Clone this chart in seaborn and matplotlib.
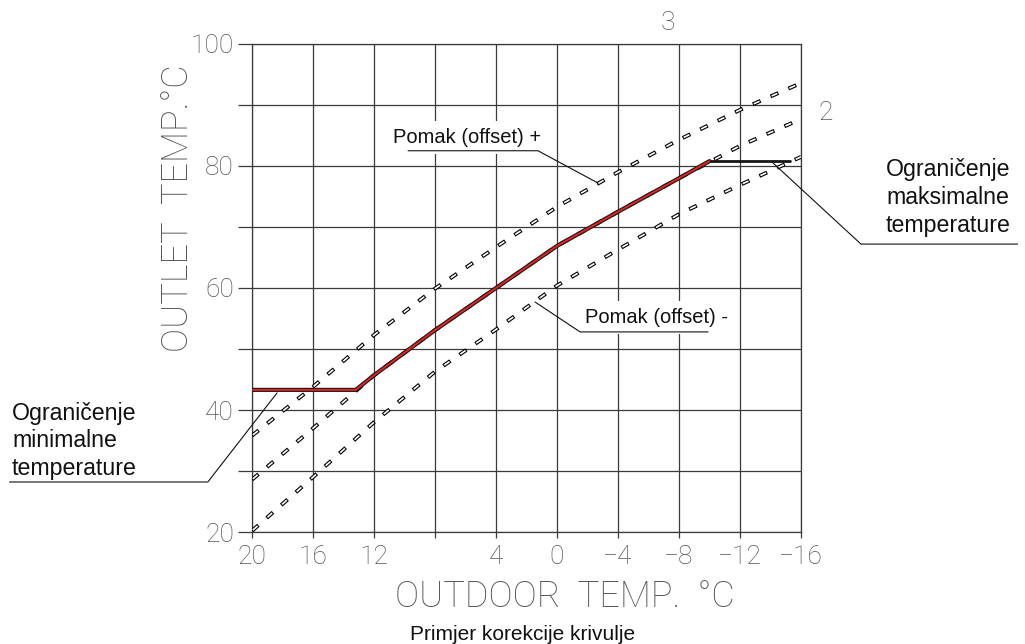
import matplotlib
matplotlib.use('Agg')
import matplotlib.pyplot as plt
import seaborn as sns

# outdoor temperature grid (x axis runs from warm to cold)
outdoor = [20, 16, 12, 8, 4, 0, -4, -8, -12, -16]
x_tick_labels = ['20', '16', '12', '', '4', '0', '−4', '−8', '−12', '−16']
outlet_ticks = [20, 30, 40, 50, 60, 70, 80, 90, 100]
y_tick_labels = ['20', '', '40', '', '60', '', '80', '', '100']

# heating curves (outlet temp in C)
curve_plus = [35.8, 43.8, 52.3, 59.9, 66.7, 73.3, 79.0, 84.3, 89.2, 93.6]   # curve 3, offset +
curve_base = [28.6, 37.0, 45.7, 53.1, 60.0, 66.9, 72.5, 78.0, 83.3, 87.7]   # curve 2
curve_minus = [20.2, 29.0, 38.0, 46.3, 53.2, 60.4, 66.3, 72.1, 76.9, 81.5]  # offset -

# limits of the corrected curve
min_limit = 43.3
max_limit = 80.8
min_reached_at = 13.2
max_reached_at = -10.0
max_line_end = -15.3

sns.set_theme(style='white')
plt.rcParams['font.family'] = ['Roboto', 'DejaVu Sans']
plt.rcParams['lines.scale_dashes'] = False

GRID = '#3a3a3a'
TXT = '#555555'
LBL = ['Liberation Sans', 'DejaVu Sans']

fig = plt.figure(figsize=(10.25, 6.44), dpi=100)
ax = fig.add_axes([0.2459, 0.1739, 0.5356, 0.7578])


def cad_dashed(values):
    # outlined dashes, like the CAD export
    sns.lineplot(x=outdoor, y=values, ax=ax, sort=False, color='black',
                 linewidth=2.8, linestyle=(0, (6.1, 7.9)), zorder=4)
    sns.lineplot(x=outdoor, y=values, ax=ax, sort=False, color='white',
                 linewidth=1.2, linestyle=(13.25, (4.6, 9.4)), zorder=5)


cad_dashed(curve_plus)
cad_dashed(curve_base)
cad_dashed(curve_minus)

# corrected curve: base curve clipped to min / max limit
red_x = [outdoor[0], min_reached_at]
red_y = [min_limit, min_limit]
for xv, yv in zip(outdoor, curve_base):
    if max_reached_at < xv < min_reached_at:
        red_x.append(xv)
        red_y.append(yv)
red_x.append(max_reached_at)
red_y.append(max_limit)

sns.lineplot(x=red_x, y=red_y, ax=ax, sort=False, color='#1a1a1a', linewidth=3.0, zorder=6)
sns.lineplot(x=red_x, y=red_y, ax=ax, sort=False, color='#e32222', linewidth=1.4, zorder=7)
sns.lineplot(x=[max_reached_at, max_line_end], y=[max_limit, max_limit], ax=ax,
             sort=False, color='#151515', linewidth=2.0, zorder=6)

ax.set_xlim(20, -16)
ax.set_ylim(20, 100)
ax.set_xticks(outdoor)
ax.set_xticklabels(x_tick_labels)
ax.set_yticks(outlet_ticks)
ax.set_yticklabels(y_tick_labels)
ax.set_xlabel('')
ax.set_ylabel('')
ax.grid(True, color=GRID, linewidth=0.9)
ax.set_axisbelow(True)
for sp in ax.spines.values():
    sp.set_color(GRID)
    sp.set_linewidth(0.9)
ax.tick_params(axis='x', bottom=True, length=4.5, width=0.9, color=GRID, pad=5,
               labelsize=19, labelcolor=TXT)
ax.tick_params(axis='y', left=True, length=10, width=0.9, color=GRID, pad=3,
               labelsize=19, labelcolor=TXT)
for lbl in ax.get_xticklabels() + ax.get_yticklabels():
    lbl.set_fontweight('light')

# curve numbers
ax.text(-7.3, 103.4, '3', ha='center', va='center', fontsize=19, color=TXT,
        fontweight='light', clip_on=False)
ax.text(-17.6, 88.7, '2', ha='center', va='center', fontsize=19, color=TXT,
        fontweight='light', clip_on=False)

# axis titles
fig.text(0.551, 0.0575, 'OUTDOOR  TEMP.  °C', ha='center', va='baseline',
         fontsize=26, color=TXT, fontweight='light')
fig.text(0.1737, 0.677, 'OUTLET  TEMP.°C', ha='center', va='center', rotation=90,
         fontsize=26, color=TXT, fontweight='light')
fig.text(0.5098, 0.0062, 'Primjer korekcije krivulje', ha='center', va='baseline',
         fontsize=15, color='#111111', family=LBL)

# callouts
box = dict(fc='white', ec='none', pad=5)
ax.text(10.75, 83.8, 'Pomak (offset) +', ha='left', va='baseline', fontsize=14.5,
        color='#111111', family=LBL, bbox=box, zorder=3)
ax.plot([9.77, 1.25, -2.69], [82.5, 82.5, 77.2], color='#111111', lw=0.8, zorder=8)

ax.text(-1.84, 54.3, 'Pomak (offset) -', ha='left', va='baseline', fontsize=14.5,
        color='#111111', family=LBL, bbox=box, zorder=3)
ax.plot([1.44, -1.51, -9.9], [57.7, 52.8, 52.8], color='#111111', lw=0.8, zorder=8)

ax.text(35.74, 29.34, 'Ograničenje\nminimalne\ntemperature', ha='left', va='baseline',
        fontsize=16.7, linespacing=1.26, color='#111111', family=LBL, clip_on=False)
ax.plot([18.36, 22.9, 35.9], [42.8, 28.2, 28.2], color='#111111', lw=0.8,
        clip_on=False, zorder=8)

ax.text(-21.57, 69.23, 'Ograničenje\nmaksimalne\ntemperature', ha='left', va='baseline',
        fontsize=16.7, linespacing=1.26, color='#111111', family=LBL, clip_on=False)
ax.plot([-14.16, -19.93, -30.2], [80.5, 67.2, 67.2], color='#111111', lw=0.8,
        clip_on=False, zorder=8)

fig.savefig('out.png', dpi=100, facecolor='white')
